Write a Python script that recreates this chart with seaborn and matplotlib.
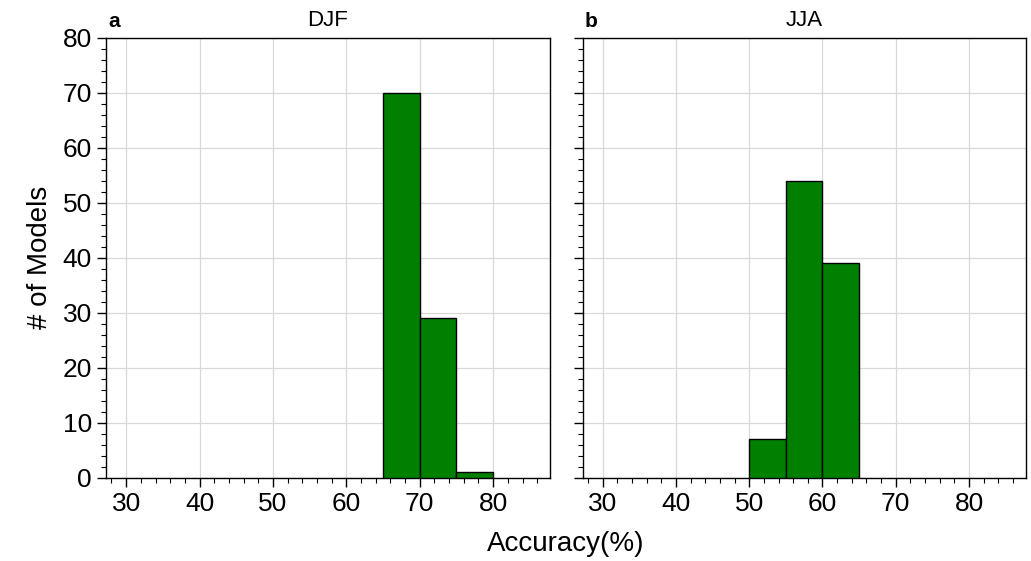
import numpy as np
import pandas as pd
import matplotlib
matplotlib.use("Agg")
import matplotlib.pyplot as plt
import seaborn as sns
from matplotlib.ticker import MultipleLocator

# ---- data ----
seasons = ["DJF", "JJA"]
panel_letters = ["a", "b"]
bin_width = 5
djf_bin_starts = [65, 70, 75]
djf_counts = [70, 29, 1]
jja_bin_starts = [50, 55, 60]
jja_counts = [7, 54, 39]
x_ticks = [30, 40, 50, 60, 70, 80]
y_ticks = [0, 10, 20, 30, 40, 50, 60, 70, 80]

sns.set_theme(style="ticks")
plt.rcParams["font.family"] = ["Liberation Sans", "DejaVu Sans"]
plt.rcParams["text.color"] = "black"
plt.rcParams["axes.labelcolor"] = "black"
plt.rcParams["xtick.color"] = "black"
plt.rcParams["ytick.color"] = "black"

fig = plt.figure(figsize=(10.31, 5.61), dpi=100)
ax1 = fig.add_axes([0.1028, 0.148, 0.4307, 0.785])
ax2 = fig.add_axes([0.565, 0.148, 0.430, 0.785], sharey=ax1)

panels = [(ax1, djf_bin_starts, djf_counts), (ax2, jja_bin_starts, jja_counts)]
for i, (ax, starts, counts) in enumerate(panels):
    df = pd.DataFrame({"acc": np.array(starts) + bin_width / 2, "n": counts})
    sns.histplot(data=df, x="acc", weights="n", binwidth=bin_width,
                 binrange=(min(starts), max(starts) + bin_width),
                 color="#007f00", alpha=1.0, edgecolor="black", linewidth=1.0,
                 ax=ax, zorder=3)
    ax.set_xlim(27.25, 87.75)
    ax.set_ylim(0, 80)
    ax.set_xticks(x_ticks)
    ax.set_yticks(y_ticks)
    ax.xaxis.set_minor_locator(MultipleLocator(2))
    ax.yaxis.set_minor_locator(MultipleLocator(2))
    ax.grid(True, which="major", color="#d8d8d8", linewidth=0.9, zorder=0)
    ax.set_axisbelow(True)
    ax.tick_params(axis="both", which="major", length=6.5, width=1.0,
                   labelsize=19, color="black", labelcolor="black", direction="out")
    ax.tick_params(axis="both", which="minor", length=3.5, width=0.8,
                   color="black", direction="out")
    for s in ax.spines.values():
        s.set_visible(True)
        s.set_linewidth(1.0)
        s.set_color("black")
    ax.set_xlabel("")
    ax.set_ylabel("")
    ax.set_title(seasons[i], fontsize=16, pad=8, color="black")
    ax.text(0.005, 1.014, panel_letters[i], transform=ax.transAxes,
            fontsize=15, fontweight="bold", ha="left", va="bottom", color="black")

ax2.tick_params(axis="y", labelleft=False)
ax1.set_ylabel("# of Models", fontsize=20, labelpad=7, color="black")
fig.text(0.549, 0.008, "Accuracy(%)", fontsize=20, ha="center", va="bottom",
         color="black")

fig.savefig("out.png", dpi=100)
